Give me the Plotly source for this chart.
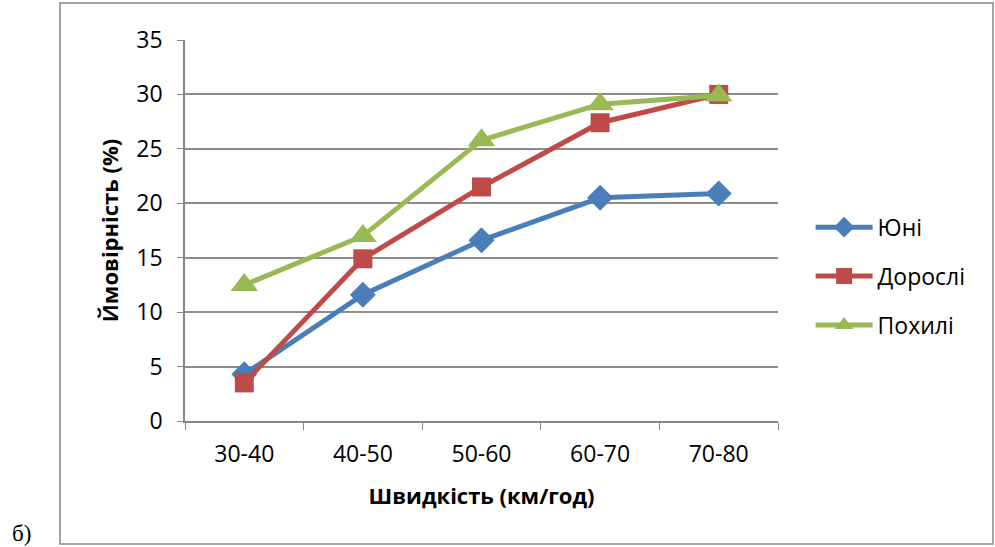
import plotly.graph_objects as go

categories = ["30-40", "40-50", "50-60", "60-70", "70-80"]
yuni = [4.3, 11.6, 16.6, 20.5, 20.9]
dorosli = [3.5, 14.9, 21.5, 27.4, 30.0]
pokhyli = [12.5, 17.0, 25.8, 29.1, 29.9]

series_names = ["Юні", "Дорослі", "Похилі"]
colors = ["#4A7EBB", "#BE4B48", "#98B954"]
symbols = ["diamond", "square", "triangle-up"]
sizes = [20, 19, 24]

fig = go.Figure()
for i, (name, vals) in enumerate(zip(series_names, [yuni, dorosli, pokhyli])):
    fig.add_trace(go.Scatter(
        x=categories, y=vals, name=name, mode="lines+markers",
        line=dict(color=colors[i], width=5),
        marker=dict(symbol=symbols[i], size=sizes[i], color=colors[i]),
        legendgroup=name,
    ))

font_main = "Open Sans, Noto Sans, sans-serif"
fig.update_layout(
    width=995, height=547,
    margin=dict(l=185, r=217, t=40, b=126),
    paper_bgcolor="white", plot_bgcolor="white",
    font=dict(family=font_main, size=23, color="black"),
    showlegend=True,
    legend=dict(x=1.055, y=0.38, xanchor="left", yanchor="middle",
                font=dict(size=23), tracegroupgap=16, itemwidth=57),
    xaxis=dict(
        type="category", range=[-0.5, 4.5],
        showline=True, linecolor="#868686", linewidth=1.5,
        ticks="outside", tickson="boundaries", ticklen=7, tickcolor="#868686",
        showgrid=False, tickfont=dict(size=23), ticklabelstandoff=12,
        title=dict(text="<b>Швидкість (км/год)</b>", font=dict(size=22), standoff=20),
    ),
    yaxis=dict(
        range=[0, 35], dtick=5,
        showline=True, linecolor="#868686", linewidth=1.5,
        ticks="outside", ticklen=6, tickcolor="#868686",
        showgrid=True, gridcolor="#8C8C8C", gridwidth=1.5,
        zeroline=False, tickfont=dict(size=23), ticklabelstandoff=10,
        title=dict(text="<b>Ймовірність (%)</b>", font=dict(size=22), standoff=12),
    ),
    shapes=[dict(type="rect", xref="paper", yref="paper",
                 x0=-0.2108, x1=1.3626, y0=-0.3228, y1=1.0971,
                 line=dict(color="#868686", width=1.5))],
    annotations=[dict(text="б)", xref="paper", yref="paper",
                      x=-0.275, y=-0.295, xanchor="center", yanchor="middle",
                      showarrow=False,
                      font=dict(family="Liberation Serif, Times New Roman, serif", size=23))],
)

fig.write_html("out.html")
